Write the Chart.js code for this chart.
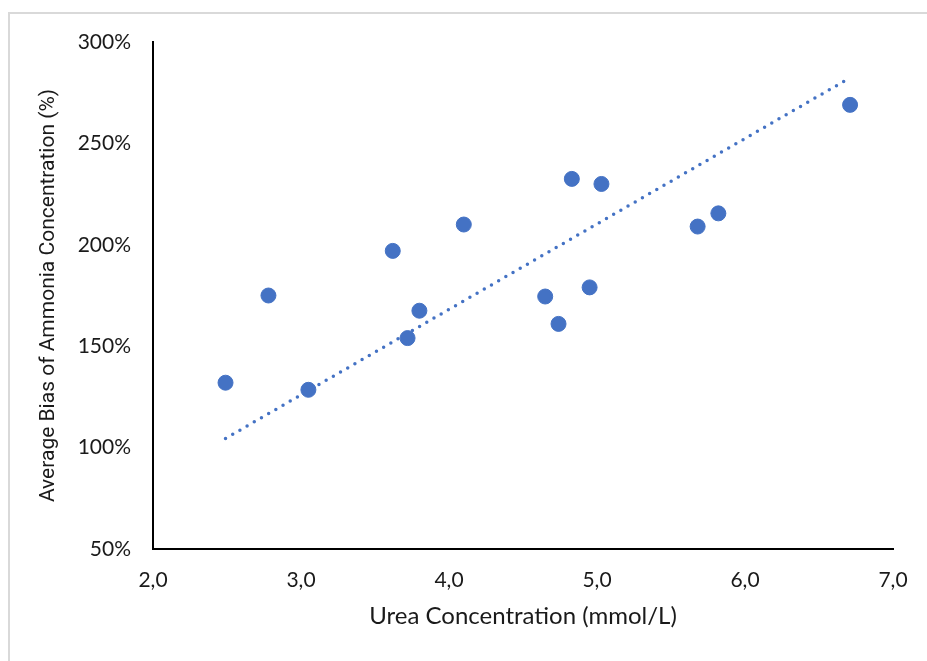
<!DOCTYPE html>
<html>
<head>
<meta charset="utf-8">
<script src="https://cdn.jsdelivr.net/npm/chart.js@4.4.1/dist/chart.umd.min.js"></script>
<style>
  html, body { margin: 0; padding: 0; background: #fff; overflow: hidden; }
  #frame { position: absolute; left: 8px; top: 12px; width: 940px; height: 700px; border: 2px solid #d9d9d9; box-sizing: border-box; }
  #wrap { position: absolute; left: 0; top: 0; width: 927px; height: 661px; }
</style>
</head>
<body>
<div id="frame"></div>
<div id="wrap"><canvas id="chart"></canvas></div>
<script>
// Data
const ureaConc = [2.49, 2.78, 3.05, 3.62, 3.72, 3.80, 4.10, 4.65, 4.74, 4.83, 4.95, 5.03, 5.68, 5.82, 6.71];
const avgBias = [132, 175, 128.5, 197, 154, 167.5, 210, 174.5, 161, 232.5, 179, 230, 209, 215.5, 269];

// Linear trendline end points (as drawn in the reference)
const trendX = [2.49, 6.69];
const trendY = [104.5, 281.5];

const xTicks = [2, 3, 4, 5, 6, 7];
const yTicks = [50, 100, 150, 200, 250, 300];

const blue = '#4472C4';
const tickFont = { family: 'Lato', size: 21 };

const chart = new Chart(document.getElementById('chart'), {
  type: 'scatter',
  data: {
    datasets: [{
      label: 'Average Bias',
      data: ureaConc.map((x, i) => ({ x: x, y: avgBias[i] })),
      backgroundColor: blue,
      borderColor: blue,
      pointRadius: 7.5,
      pointHoverRadius: 7.5,
      order: 1
    }, {
      type: 'line',
      label: 'Linear trend',
      data: trendX.map((x, i) => ({ x: x, y: trendY[i] })),
      borderColor: blue,
      borderWidth: 3.5,
      borderDash: [0, 8.3],
      borderCapStyle: 'round',
      pointRadius: 0,
      fill: false,
      order: 2
    }]
  },
  options: {
    responsive: true,
    maintainAspectRatio: false,
    animation: false,
    layout: { padding: { left: 36, right: 34, top: 42, bottom: 30 } },
    plugins: { legend: { display: false }, tooltip: { enabled: false } },
    scales: {
      x: {
        type: 'linear',
        min: 2, max: 7,
        afterBuildTicks: s => { s.ticks = xTicks.map(v => ({ value: v })); },
        grid: { display: false, drawTicks: false },
        border: { color: '#000', width: 2 },
        ticks: {
          color: '#1a1a1a', font: tickFont, padding: 19,
          callback: v => v.toFixed(1).replace('.', ',')
        },
        title: {
          display: true, text: 'Urea Concentration (mmol/L)', color: '#1a1a1a',
          font: { family: 'Lato', size: 24 }, padding: { top: 8, bottom: 0 }
        },
        afterFit: s => { s.height = 661 - 549 - 30; }
      },
      y: {
        type: 'linear',
        min: 50, max: 300,
        afterBuildTicks: s => { s.ticks = yTicks.map(v => ({ value: v })); },
        grid: { display: false, drawTicks: false },
        border: { color: '#000', width: 2 },
        ticks: {
          color: '#1a1a1a', font: tickFont, padding: 22,
          callback: v => v + '%'
        },
        title: {
          display: true, text: 'Average Bias of Ammonia Concentration (%)', color: '#1a1a1a',
          font: { family: 'Roboto', size: 21 }, padding: { top: 0, bottom: 5 }
        },
        afterFit: s => { s.width = 153 - 36; }
      }
    }
  }
});
</script>
</body>
</html>
